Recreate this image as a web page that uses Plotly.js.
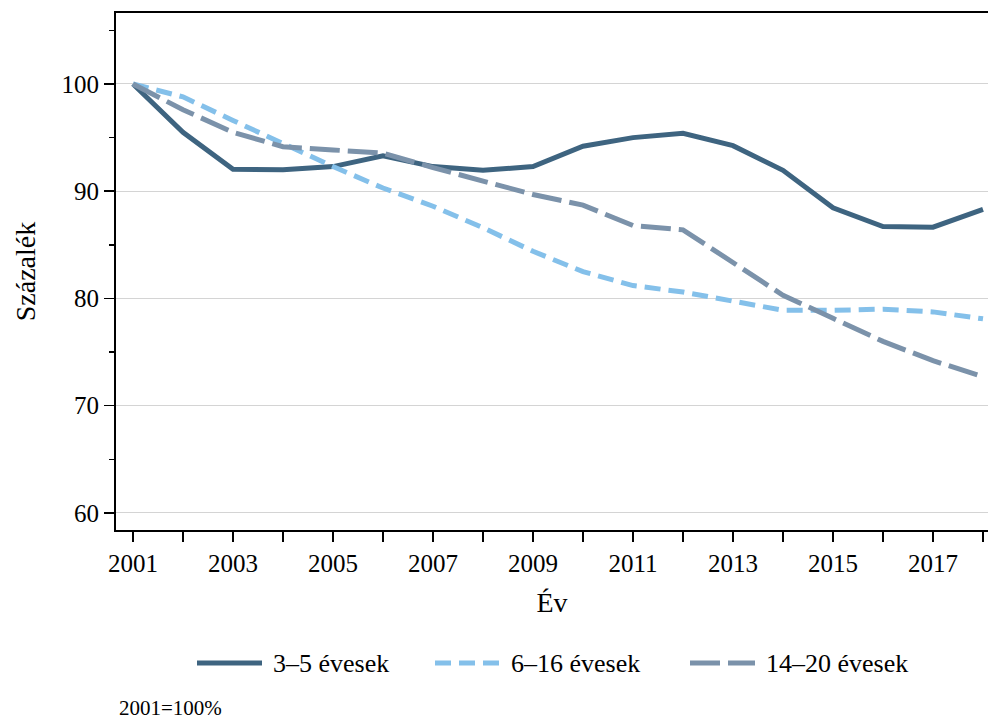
<!DOCTYPE html>
<html>
<head>
<meta charset="utf-8">
<script src="https://cdn.plot.ly/plotly-3.0.1.min.js"></script>
<style>html,body{margin:0;padding:0;background:#fff;}#chart{width:988px;height:720px;}</style>
</head>
<body>
<div id="chart"></div>
<script>
const years = [2001,2002,2003,2004,2005,2006,2007,2008,2009,2010,2011,2012,2013,2014,2015,2016,2017,2018];
const age3to5 = [100,95.5,92.05,92.0,92.3,93.3,92.3,91.95,92.3,94.2,95.0,95.4,94.25,91.95,88.45,86.7,86.65,88.3];
const age6to16 = [100,98.8,96.6,94.4,92.3,90.3,88.6,86.6,84.4,82.5,81.2,80.6,79.7,78.9,78.9,79.0,78.75,78.1];
const age14to20 = [100,97.6,95.5,94.15,93.85,93.55,92.2,90.9,89.7,88.7,86.8,86.4,83.3,80.3,78.15,76.0,74.2,72.7];
const seriesNames = ["3–5 évesek","6–16 évesek","14–20 évesek"];
const xTickVals = [2001,2003,2005,2007,2009,2011,2013,2015,2017];
const yTickVals = [60,70,80,90,100];
const noteText = "2001=100%";

const serif = "Liberation Serif, Times New Roman, serif";
const colors = ["#3e6480", "#84c0ea", "#7b92aa"];
const dashes = ["solid", "16px,8px", "30px,8px"];

const traces = [age3to5, age6to16, age14to20].map((vals, i) => ({
  x: years, y: vals, name: seriesNames[i], mode: "lines", type: "scatter",
  line: {color: colors[i], width: 5, dash: dashes[i]}, showlegend: false
}));

// custom legend (keys drawn as shapes in paper coordinates, texts as annotations)
const plotW = 872, plotH = 517, plotL = 116, plotB = 530;
const px2x = p => (p - plotL) / plotW;
const py2y = p => -(p - plotB) / plotH;
const keyStarts = [197, 435, 690];
const keyLen = 65, textGap = 9, legendY = 663;

const shapes = keyStarts.map((s, i) => ({
  type: "line", xref: "paper", yref: "paper",
  x0: px2x(s), x1: px2x(s + keyLen), y0: py2y(legendY), y1: py2y(legendY),
  line: {color: colors[i], width: 5, dash: dashes[i]}
}));
const annotations = keyStarts.map((s, i) => ({
  text: seriesNames[i], xref: "paper", yref: "paper",
  x: px2x(s + keyLen + textGap), y: py2y(legendY), xanchor: "left", yanchor: "middle",
  showarrow: false, font: {family: serif, size: 26, color: "#000"}
}));
annotations.push({text: noteText, xref: "paper", yref: "paper", x: px2x(117), y: py2y(708),
  xanchor: "left", yanchor: "middle", showarrow: false, font: {family: serif, size: 21, color: "#000"}});

const layout = {
  width: 988, height: 720,
  margin: {l: 116, r: 0, t: 13, b: 190},
  paper_bgcolor: "#ffffff", plot_bgcolor: "#ffffff",
  font: {family: serif, color: "#000000", size: 25},
  showlegend: false,
  xaxis: {
    range: [2000.66, 2018.1], tickvals: xTickVals, ticktext: xTickVals.map(String),
    ticks: "outside", ticklen: 10, tickwidth: 1.5, tickcolor: "#000",
    minor: {dtick: 1, tick0: 2001, ticks: "outside", ticklen: 10, tickwidth: 1.5, tickcolor: "#000", showgrid: false},
    showline: true, linecolor: "#000", linewidth: 2, mirror: true,
    showgrid: false, zeroline: false,
    tickfont: {family: serif, size: 25},
    title: {text: "Év", font: {family: serif, size: 28}, standoff: 16}
  },
  yaxis: {
    range: [58.41, 106.62], tickvals: yTickVals,
    ticks: "outside", ticklen: 10, tickwidth: 1.5, tickcolor: "#000",
    minor: {dtick: 10, tick0: 55, ticks: "outside", ticklen: 5, tickwidth: 1.5, tickcolor: "#000", showgrid: false},
    showline: true, linecolor: "#000", linewidth: 2, mirror: false,
    showgrid: true, gridcolor: "#d4d4d4", gridwidth: 1, zeroline: false,
    tickfont: {family: serif, size: 25},
    title: {text: "Százalék", font: {family: serif, size: 28}, standoff: 18}
  },
  shapes: shapes,
  annotations: annotations
};

Plotly.newPlot("chart", traces, layout, {displayModeBar: false, staticPlot: true});
</script>
</body>
</html>
